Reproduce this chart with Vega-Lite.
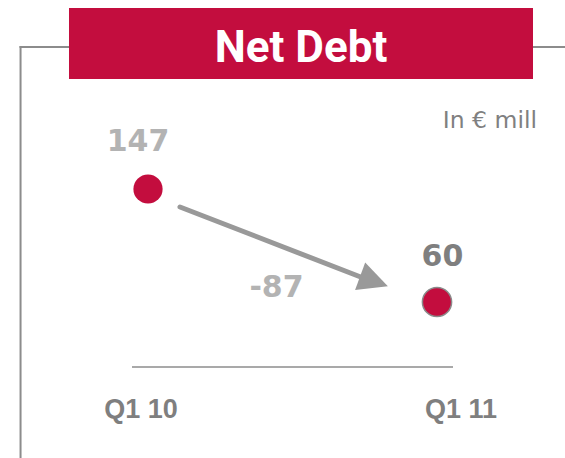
{
  "$schema": "https://vega.github.io/schema/vega-lite/v6.json",
  "width": 565,
  "height": 458,
  "autosize": "none",
  "padding": 0,
  "background": "white",
  "config": {"view": {"stroke": null}},
  "datasets": {
    "series": [
      {"period": "Q1 10", "idx": 0, "value": 147},
      {"period": "Q1 11", "idx": 1, "value": 60}
    ],
    "change": [{"from": "Q1 10", "to": "Q1 11", "change": -87}],
    "meta": [{"title": "Net Debt", "unit": "In € mill"}]
  },
  "data": {"name": "series"},
  "layer": [
    {
      "data": {"name": "meta"},
      "mark": {"type": "rule", "color": "#8c8c8c", "strokeWidth": 2, "strokeCap": "square"},
      "encoding": {
        "x": {"datum": -0.441, "type": "quantitative", "scale": {"domain": [-0.51211, 1.44291], "zero": false, "nice": false}, "axis": null},
        "x2": {"datum": 1.443},
        "y": {"datum": 256.33, "type": "quantitative", "scale": {"domain": [-60.11, 292.51], "zero": false, "nice": false}, "axis": null}
      }
    },
    {
      "data": {"name": "meta"},
      "mark": {"type": "rule", "color": "#8c8c8c", "strokeWidth": 2, "strokeCap": "square"},
      "encoding": {
        "x": {"datum": -0.441, "type": "quantitative"},
        "y": {"datum": 256.33, "type": "quantitative"},
        "y2": {"datum": -60.11}
      }
    },
    {
      "data": {"name": "meta"},
      "mark": {"type": "rect", "color": "#c30d3e"},
      "encoding": {
        "x": {"datum": -0.27336, "type": "quantitative"},
        "x2": {"datum": 1.33218},
        "y": {"datum": 286.35, "type": "quantitative"},
        "y2": {"datum": 231.69}
      }
    },
    {
      "data": {"name": "meta"},
      "mark": {"type": "text", "color": "white", "font": "Roboto", "fontWeight": "bold", "fontSize": 44, "align": "center", "baseline": "alphabetic"},
      "encoding": {
        "x": {"datum": 0.52941, "type": "quantitative"},
        "y": {"datum": 244.78, "type": "quantitative"},
        "text": {"field": "title"}
      }
    },
    {
      "data": {"name": "meta"},
      "mark": {"type": "text", "color": "#808080", "font": "DejaVu Sans", "fontSize": 23.5, "align": "right", "baseline": "alphabetic"},
      "encoding": {
        "x": {"datum": 1.34602, "type": "quantitative"},
        "y": {"datum": 193.96, "type": "quantitative"},
        "text": {"field": "unit"}
      }
    },
    {
      "data": {"name": "meta"},
      "mark": {"type": "rule", "color": "#8c8c8c", "strokeWidth": 1.5},
      "encoding": {
        "x": {"datum": -0.05536, "type": "quantitative"},
        "x2": {"datum": 1.05536},
        "y": {"datum": 9.96, "type": "quantitative"}
      }
    },
    {
      "data": {"name": "change"},
      "mark": {"type": "rule", "color": "#999999", "strokeWidth": 5, "strokeCap": "round"},
      "encoding": {
        "x": {"datum": 0.11073, "type": "quantitative"},
        "y": {"datum": 133.14, "type": "quantitative"},
        "x2": {"datum": 0.74048},
        "y2": {"datum": 78.86}
      }
    },
    {
      "data": {"name": "change"},
      "mark": {"type": "point", "shape": "M1,0L-1,-1L-1,1Z", "size": 870, "angle": 20, "filled": true, "color": "#999999", "opacity": 1, "strokeWidth": 0},
      "encoding": {
        "x": {"datum": 0.78201, "type": "quantitative"},
        "y": {"datum": 75.94, "type": "quantitative"}
      }
    },
    {
      "mark": {"type": "point", "filled": true, "size": 855, "color": "#c30d3e", "opacity": 1, "strokeWidth": 1.5},
      "encoding": {
        "x": {"field": "idx", "type": "quantitative"},
        "y": {"field": "value", "type": "quantitative"},
        "stroke": {"condition": {"test": "datum.idx == 1", "value": "#8a8a8a"}, "value": null}
      }
    },
    {
      "transform": [{"filter": "datum.idx == 0"}],
      "mark": {"type": "text", "color": "#b3b3b3", "font": "DejaVu Sans", "fontWeight": "bold", "fontSize": 30, "align": "center", "baseline": "alphabetic", "dx": -10, "dy": -38},
      "encoding": {
        "x": {"field": "idx", "type": "quantitative"},
        "y": {"field": "value", "type": "quantitative"},
        "text": {"field": "value"}
      }
    },
    {
      "transform": [{"filter": "datum.idx == 1"}],
      "mark": {"type": "text", "color": "#7f7f7f", "font": "DejaVu Sans", "fontWeight": "bold", "fontSize": 30, "align": "center", "baseline": "alphabetic", "dx": 5.5, "dy": -36},
      "encoding": {
        "x": {"field": "idx", "type": "quantitative"},
        "y": {"field": "value", "type": "quantitative"},
        "text": {"field": "value"}
      }
    },
    {
      "data": {"name": "change"},
      "mark": {"type": "text", "color": "#b3b3b3", "font": "DejaVu Sans", "fontWeight": "bold", "fontSize": 30, "align": "center", "baseline": "alphabetic"},
      "encoding": {
        "x": {"datum": 0.44464, "type": "quantitative"},
        "y": {"datum": 63.85, "type": "quantitative"},
        "text": {"field": "change"}
      }
    },
    {
      "transform": [{"filter": "datum.idx == 0"}],
      "mark": {"type": "text", "color": "#7f7f7f", "font": "Liberation Sans", "fontWeight": "bold", "fontSize": 27, "align": "center", "baseline": "alphabetic", "dx": -7},
      "encoding": {
        "x": {"field": "idx", "type": "quantitative"},
        "y": {"datum": -29.31, "type": "quantitative"},
        "text": {"field": "period"}
      }
    },
    {
      "transform": [{"filter": "datum.idx == 1"}],
      "mark": {"type": "text", "color": "#7f7f7f", "font": "Liberation Sans", "fontWeight": "bold", "fontSize": 27, "align": "center", "baseline": "alphabetic", "dx": 24},
      "encoding": {
        "x": {"field": "idx", "type": "quantitative"},
        "y": {"datum": -29.31, "type": "quantitative"},
        "text": {"field": "period"}
      }
    }
  ]
}
